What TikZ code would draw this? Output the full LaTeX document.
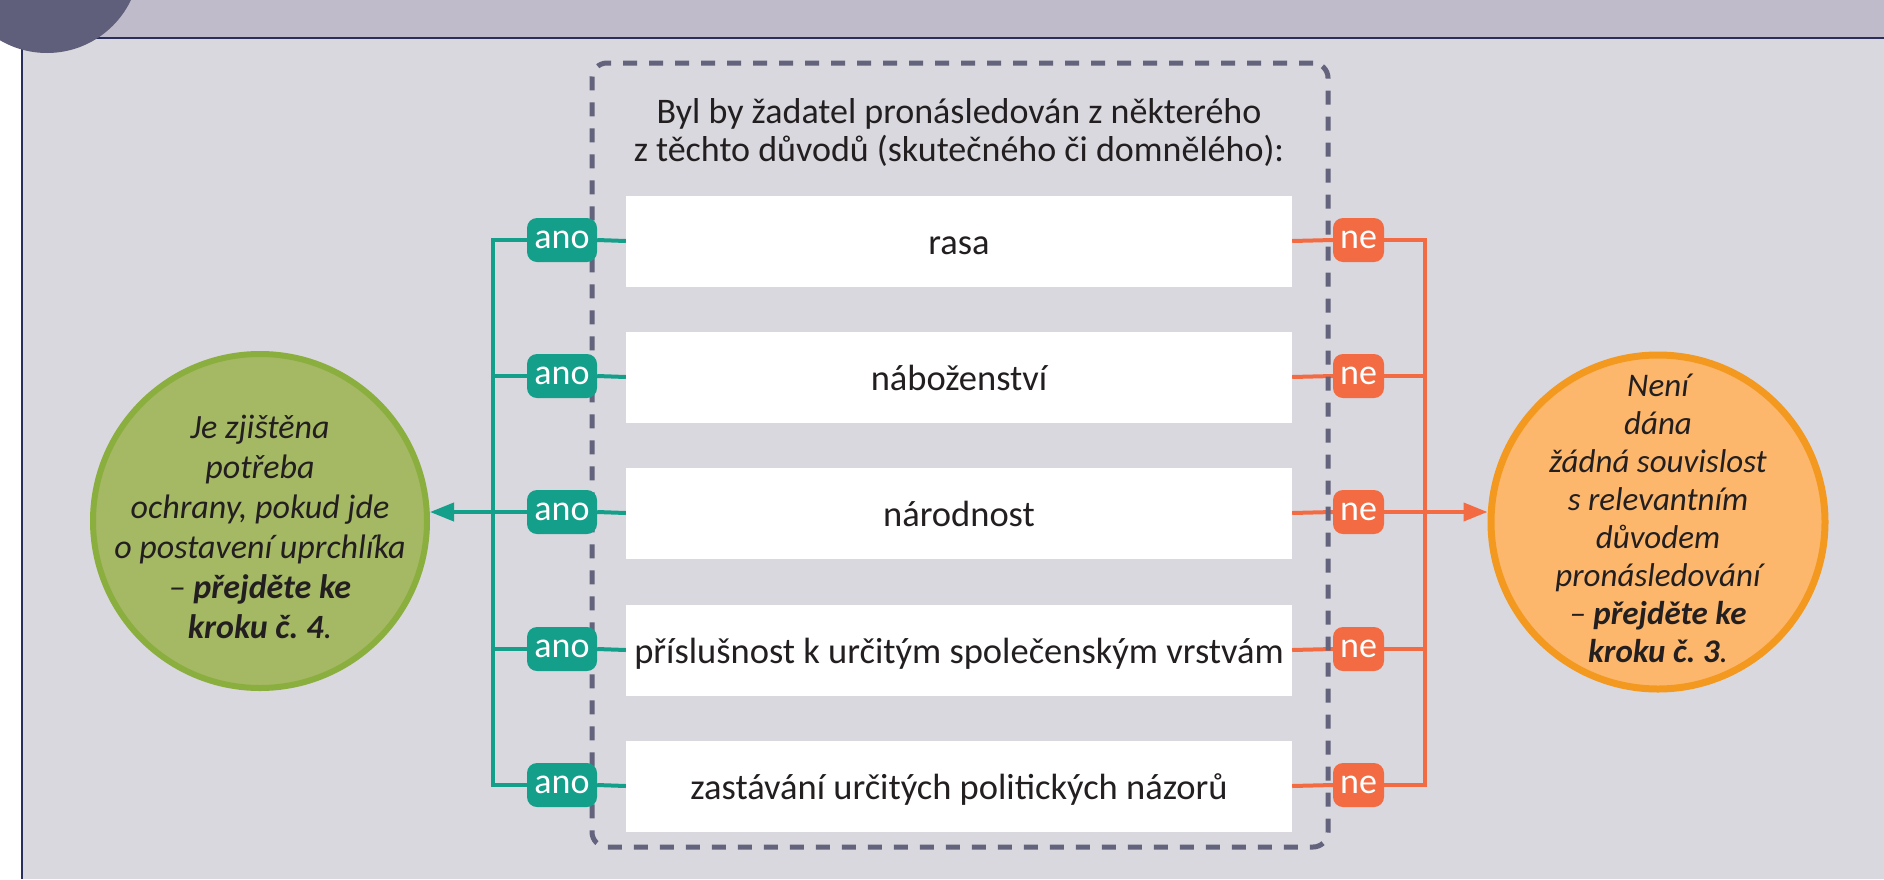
\documentclass[tikz,border=0pt]{standalone}
\usepackage{fontspec}
\setmainfont{Carlito}
\usetikzlibrary{arrows.meta}
\frenchspacing

\definecolor{bandlila}{HTML}{BFBBCA}
\definecolor{panelgray}{HTML}{D9D8DE}
\definecolor{navy}{HTML}{2B2D5A}
\definecolor{stepdisc}{HTML}{5F5F7B}
\definecolor{dashgray}{HTML}{63637D}
\definecolor{anoteal}{HTML}{139F8A}
\definecolor{neorange}{HTML}{F26B43}
\definecolor{yesgreen}{HTML}{A5B864}
\definecolor{yesrim}{HTML}{8BAF3E}
\definecolor{nofill}{HTML}{FCB76C}
\definecolor{norim}{HTML}{F4991F}
\definecolor{inktext}{HTML}{231F20}

\begin{document}
\begin{tikzpicture}[x=1pt,y=-1pt,
        every node/.style={text=inktext},
        reason/.style={fill=white,minimum width=666pt,minimum height=91pt,inner sep=0pt,
            text height=30pt,text depth=3pt,font=\fontsize{36.5}{40}\selectfont},
        anotag/.style={fill=anoteal,text=white,rounded corners=10pt,minimum width=70pt,
            minimum height=44pt,inner sep=0pt,font=\fontsize{36}{40}\selectfont},
        netag/.style={fill=neorange,text=white,rounded corners=10pt,minimum width=51pt,
            minimum height=44pt,inner sep=0pt,font=\fontsize{36}{40}\selectfont},
        anoline/.style={draw=anoteal,line width=4pt},
        neline/.style={draw=neorange,line width=4pt},
        tip/.style={-{Triangle[length=24pt,width=18pt]}},
        framebox/.style={draw=dashgray,line width=5pt,dash pattern=on 14pt off 12pt,
            rounded corners=15pt,minimum width=736pt,minimum height=784pt},
        result/.style={circle,minimum size=334pt,inner sep=0pt,line width=6pt},
        resulttext/.style={align=center,inner sep=0pt,font=\itshape\fontsize{34}{40}\selectfont}]
                \useasboundingbox (0,0) rectangle (1884,879) ;
                \clip (0,0) rectangle (1884,879) ;
                % panel and header band
                \fill [white] (0,0) rectangle (1884,879) ;
                \fill [bandlila] (0,0) rectangle (1884,38) ;
                \fill [panelgray] (22,38) rectangle (1884,879) ;
                \draw [navy, line width=2pt] (22,879) -- (22,38) -- (1884,38) ;
                \fill [stepdisc] (47,-40) circle [radius=93pt] ;
                % reasons
                \node [resulttext, font=\fontsize{36}{38}\selectfont, anchor=base] (question) at (959,161)
                    {Byl by žadatel pronásledován z některého\\z těchto důvodů (skutečného či domnělého):} ;
                \node [reason] (r1) at (959,241) {rasa} ;
                \node [reason] (r2) at (959,377) {náboženství} ;
                \node [reason] (r3) at (959,513) {národnost} ;
                \node [reason] (r4) at (959,650) {příslušnost k určitým společenským vrstvám} ;
                \node [reason] (r5) at (959,786) {zastávání určitých politických názorů} ;
                \node [netag] (n1) at (1358.5,240) {ne} ;
                \node [netag] (n2) at (1358.5,376) {ne} ;
                \node [netag] (n3) at (1358.5,512) {ne} ;
                \node [netag] (n4) at (1358.5,649) {ne} ;
                \node [netag] (n5) at (1358.5,785) {ne} ;
                % results
                \node [result, fill=yesgreen, draw=yesrim] (yes) at (260,521) {} ;
                \node [resulttext] (yestext) at (260,527)
                    {Je zjištěna\\potřeba\\ochrany, pokud jde\\o postavení uprchlíka\\– \textbf{přejděte ke}\\\textbf{kroku č. 4}.} ;
                \node [result, fill=nofill, draw=norim, line width=7pt] (no) at (1658,522) {} ;
                \node [resulttext, font=\itshape\fontsize{33}{38}\selectfont] (notext) at (1658,518)
                    {Není\\dána\\žádná souvislost\\s relevantním\\důvodem\\pronásledování\\– \textbf{přejděte ke}\\\textbf{kroku č. 3}.} ;
                \coordinate (anobus) at (493,513) ;
                \coordinate (nebus) at (1425,513) ;
                % ne branch
                \draw [neline] (r1.east) -- (n1.west) ;
                \draw [neline] (r2.east) -- (n2.west) ;
                \draw [neline] (r3.east) -- (n3.west) ;
                \draw [neline] (r4.east) -- (n4.west) ;
                \draw [neline] (r5.east) -- (n5.west) ;
                \draw [neline] (n1.east) -- (n1.east -| nebus) -- (n5.east -| nebus) -- (n5.east) ;
                \draw [neline] (n2.east) -- (n2.east -| nebus) ;
                \draw [neline] (n4.east) -- (n4.east -| nebus) ;
                \draw [neline, tip] (n3.east) -- (no.west |- n3.east) ;
                \node [framebox] (frame) at (960,455) {} ;
                % ano branch
                \node [anotag] (a1) at (562,240) {ano} ;
                \node [anotag] (a2) at (562,376) {ano} ;
                \node [anotag] (a3) at (562,512) {ano} ;
                \node [anotag] (a4) at (562,649) {ano} ;
                \node [anotag] (a5) at (562,785) {ano} ;
                \draw [anoline] (r1.west) -- (a1.east) ;
                \draw [anoline] (r2.west) -- (a2.east) ;
                \draw [anoline] (r3.west) -- (a3.east) ;
                \draw [anoline] (r4.west) -- (a4.east) ;
                \draw [anoline] (r5.west) -- (a5.east) ;
                \draw [anoline] (a1.west) -- (a1.west -| anobus) -- (a5.west -| anobus) -- (a5.west) ;
                \draw [anoline] (a2.west) -- (a2.west -| anobus) ;
                \draw [anoline] (a4.west) -- (a4.west -| anobus) ;
                \draw [anoline, tip] (a3.west) -- (yes.east |- a3.west) ;
\end{tikzpicture}
\end{document}
